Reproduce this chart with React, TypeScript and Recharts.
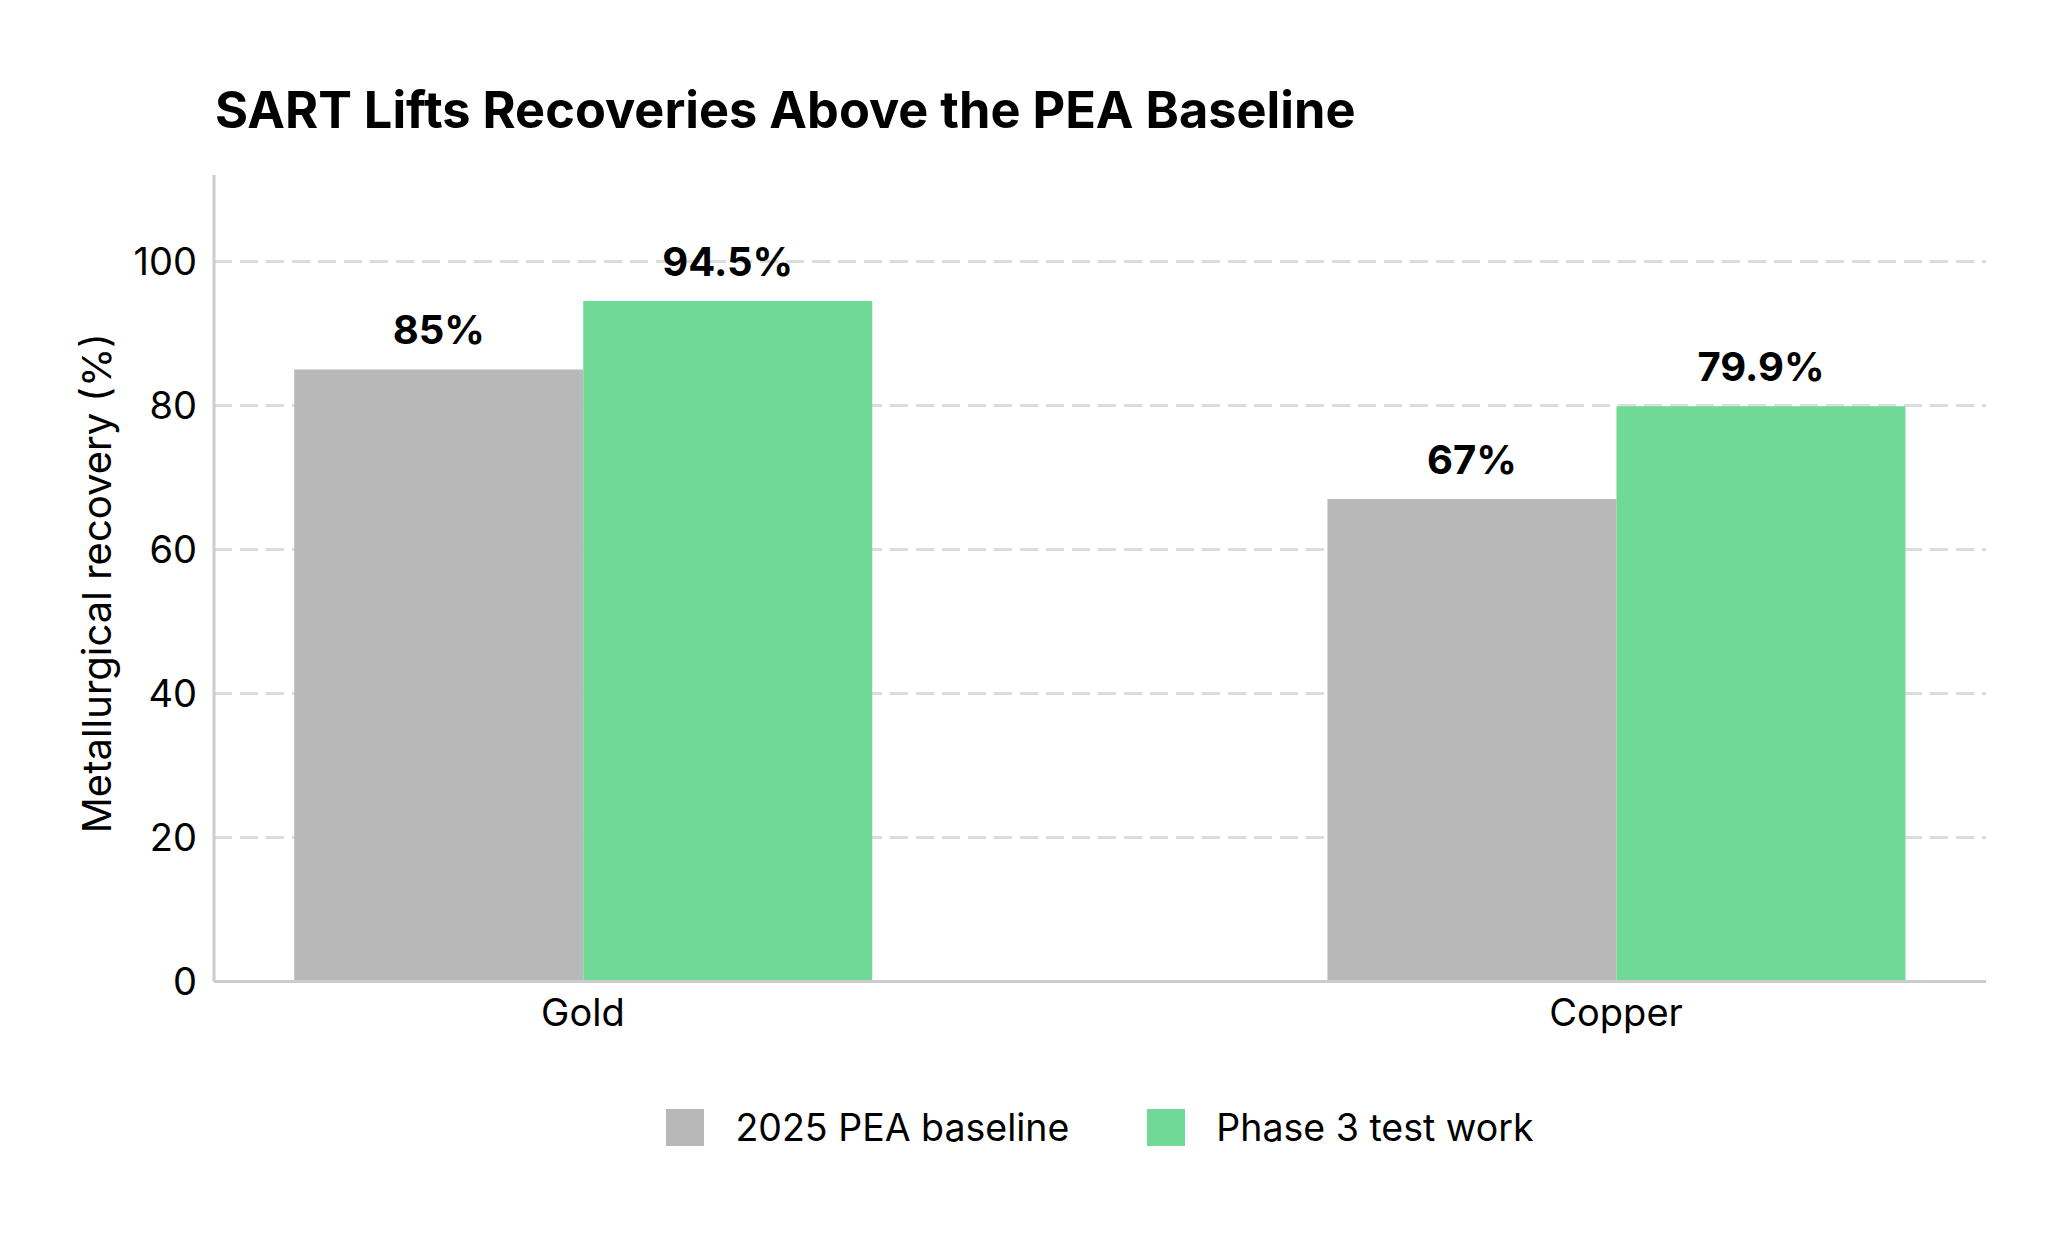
import React from "react";
import {
  Bar,
  BarChart,
  CartesianGrid,
  LabelList,
  Legend,
  XAxis,
  YAxis,
  Label,
} from "recharts";

const categories = ["Gold", "Copper"];
const peaBaseline = [85, 67];
const phase3Work = [94.5, 79.9];
const seriesNames = ["2025 PEA baseline", "Phase 3 test work"];
const yTicks = [0, 20, 40, 60, 80, 100];
const catPositions = [0, 1];

const data = categories.map((name, i) => ({
  pos: catPositions[i],
  name,
  baseline: peaBaseline[i],
  phase3: phase3Work[i],
}));

const FONT = "Inter, 'Noto Sans', sans-serif";
const TEXT = "#000";

function AxisTitle(props: any) {
  const vb = props.viewBox || { x: 0, y: 0, width: 0, height: 0 };
  const cx = vb.x + 88;
  const cy = vb.y + vb.height / 2 + 5;
  return (
    <text
      x={cx}
      y={cy}
      transform={`rotate(-90, ${cx}, ${cy})`}
      textAnchor="middle"
      dominantBaseline="central"
      fontSize={40}
      fill={TEXT}
    >
      Metallurgical recovery (%)
    </text>
  );
}

function LegendRow({ payload }: any) {
  return (
    <div
      style={{
        display: "flex",
        justifyContent: "center",
        alignItems: "center",
        height: 60,
        gap: 78,
      }}
    >
      {(payload || []).map((p: any) => (
        <div key={p.value} style={{ display: "flex", alignItems: "center" }}>
          <span
            style={{ width: 38, height: 37, background: p.color, display: "inline-block" }}
          />
          <span style={{ marginLeft: 31, fontSize: 37.5, color: TEXT }}>{p.value}</span>
        </div>
      ))}
    </div>
  );
}

export default function App() {
  return (
    <div style={{ position: "relative", width: 2032, height: 1236, fontFamily: FONT }}>
      <div
        style={{
          position: "absolute",
          left: 207,
          top: 77,
          fontSize: 50.5,
          lineHeight: 1,
          fontWeight: 700,
          color: TEXT,
          whiteSpace: "nowrap",
        }}
      >
        SART Lifts Recoveries Above the PEA Baseline
      </div>
      <BarChart
        width={2032}
        height={1236}
        data={data}
        margin={{ top: 167, right: 54, left: 0, bottom: 87 }}
        barGap={0}
      >
        <CartesianGrid
          vertical={false}
          horizontalValues={yTicks}
          stroke="#dddddd"
          strokeWidth={3}
          strokeDasharray="18 8"
        />
        <XAxis
          dataKey="pos"
          type="number"
          domain={[-0.357, 1.358]}
          ticks={catPositions}
          tickFormatter={(v: number) => categories[v] ?? ""}
          height={115.5}
          tickLine={false}
          tickSize={0}
          tickMargin={17.5}
          axisLine={{ stroke: "#cccccc", strokeWidth: 3 }}
          tick={{ fill: TEXT, fontSize: 38 }}
        />
        <YAxis
          domain={[0, 112]}
          ticks={yTicks}
          width={206}
          tickLine={false}
          tickSize={0}
          tickMargin={17}
          axisLine={{ stroke: "#cccccc", strokeWidth: 3 }}
          tick={{ fill: TEXT, fontSize: 38 }}
        >
          <Label content={AxisTitle} />
        </YAxis>
        <Legend
          verticalAlign="bottom"
          content={LegendRow}
          wrapperStyle={{ left: 206, width: 1772 }}
        />
        <Bar
          dataKey="baseline"
          name={seriesNames[0]}
          fill="#b8b8b8"
          barSize={289}
          isAnimationActive={false}
        >
          <LabelList
            dataKey="baseline"
            position="top"
            offset={25}
            formatter={(v: any) => `${v}%`}
            fill={TEXT}
            fontSize={40}
            fontWeight={700}
          />
        </Bar>
        <Bar
          dataKey="phase3"
          name={seriesNames[1]}
          fill="#71d998"
          barSize={289}
          isAnimationActive={false}
        >
          <LabelList
            dataKey="phase3"
            position="top"
            offset={25}
            formatter={(v: any) => `${v}%`}
            fill={TEXT}
            fontSize={40}
            fontWeight={700}
          />
        </Bar>
      </BarChart>
    </div>
  );
}
